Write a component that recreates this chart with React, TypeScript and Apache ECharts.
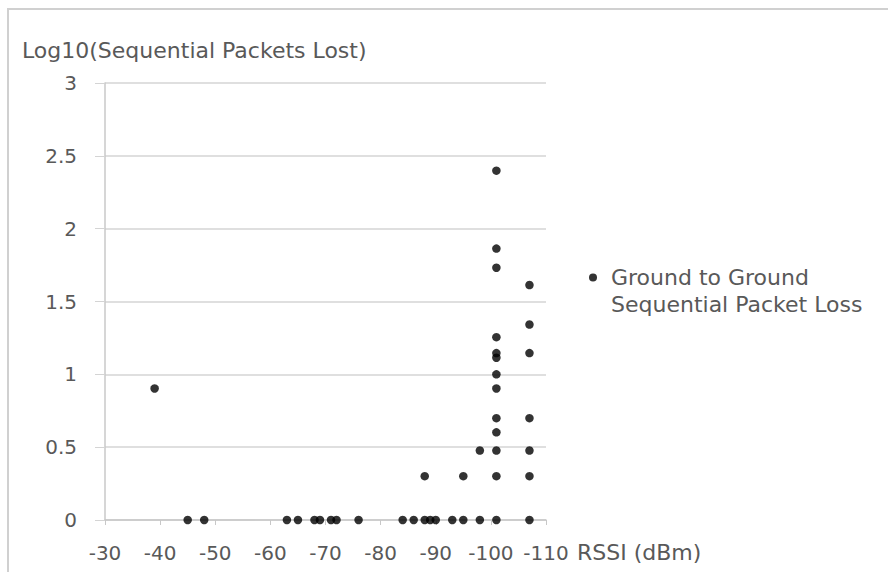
import React, { useEffect, useRef } from "react";
import * as echarts from "echarts";

const seriesName = "Ground to Ground Sequential Packet Loss";
const rssi = [
  -39,
  -45, -48, -63, -65, -68, -69, -71, -72, -76, -84, -86, -88, -89, -90, -93, -95, -98, -101, -107,
  -88, -95, -101, -107,
  -98, -101, -107,
  -101, -101, -101, -101, -101, -101, -101, -101, -101, -101,
  -107, -107, -107, -107,
];
const logLost = [
  0.903,
  0, 0, 0, 0, 0, 0, 0, 0, 0, 0, 0, 0, 0, 0, 0, 0, 0, 0, 0,
  0.301, 0.301, 0.301, 0.301,
  0.477, 0.477, 0.477,
  0.602, 0.699, 0.903, 1.0, 1.114, 1.146, 1.255, 1.732, 1.863, 2.398,
  0.699, 1.146, 1.342, 1.613,
];
const yTitle = "Log10(Sequential Packets Lost)";
const xTitle = "RSSI (dBm)";

const FONT = "'DejaVu Sans', sans-serif";
const TXT = "#595959";

// legend dot at the top-left of a larger box so it lines up with the first text line
const legendIcon =
  "path://M4,0 A4,4 0 1,1 4,8 A4,4 0 1,1 4,0 Z M17,35 L17,35";

export default function App() {
  const ref = useRef<HTMLDivElement>(null);
  useEffect(() => {
    if (!ref.current) return;
    const chart = echarts.init(ref.current, undefined, { renderer: "svg" });
    const data = rssi.map((x, i) => [x, logLost[i]]);
    chart.setOption({
      animation: false,
      backgroundColor: "#ffffff",
      textStyle: { fontFamily: FONT },
      title: {
        text: yTitle,
        left: 22,
        top: 39,
        padding: 0,
        textStyle: { color: TXT, fontSize: 22, fontWeight: "normal", fontFamily: FONT },
      },
      graphic: [
        {
          type: "rect",
          shape: { x: 8, y: 9, width: 900, height: 600 },
          style: { fill: "none", stroke: "#d0d0d0", lineWidth: 2 },
          silent: true,
        },
      ],
      legend: {
        left: 589,
        top: 264,
        padding: 0,
        orient: "vertical",
        icon: legendIcon,
        itemWidth: 17,
        itemHeight: 35,
        itemGap: 0,
        data: [seriesName],
        formatter: () => "Ground to Ground\nSequential Packet Loss",
        textStyle: {
          color: TXT,
          fontSize: 22,
          fontFamily: FONT,
          lineHeight: 27,
        },
      },
      grid: {
        left: 105,
        right: 342,
        top: 83,
        bottom: 52,
        containLabel: false,
        outerBoundsMode: "none",
      },
      xAxis: {
        type: "value",
        inverse: true,
        min: -110,
        max: -30,
        interval: 10,
        name: xTitle,
        nameLocation: "start",
        nameGap: 31,
        nameTextStyle: {
          color: TXT,
          fontSize: 22,
          fontFamily: FONT,
          align: "left",
          verticalAlign: "top",
          padding: [21, 0, 0, 0],
        },
        axisLine: { show: true, lineStyle: { color: "#c8c8c8", width: 1.5 } },
        axisTick: { show: true, length: 5, lineStyle: { color: "#c8c8c8" } },
        splitLine: { show: false },
        axisLabel: { color: TXT, fontSize: 20, fontFamily: FONT, margin: 23 },
      },
      yAxis: {
        type: "value",
        min: 0,
        max: 3,
        interval: 0.5,
        axisLine: { show: true, lineStyle: { color: "#c8c8c8", width: 1.5 } },
        axisTick: { show: true, length: 10, lineStyle: { color: "#d4d4d4" } },
        splitLine: { show: true, lineStyle: { color: "#d4d4d4", width: 1.5 } },
        axisLabel: { color: TXT, fontSize: 20, fontFamily: FONT, margin: 28 },
      },
      series: [
        {
          name: seriesName,
          type: "scatter",
          symbol: "circle",
          symbolSize: 8.5,
          itemStyle: { color: "#000000" },
          data,
        },
      ],
    });
    return () => chart.dispose();
  }, []);
  return (
    <div
      ref={ref}
      style={{ position: "fixed", left: 0, top: 0, width: 888, height: 572 }}
    />
  );
}
